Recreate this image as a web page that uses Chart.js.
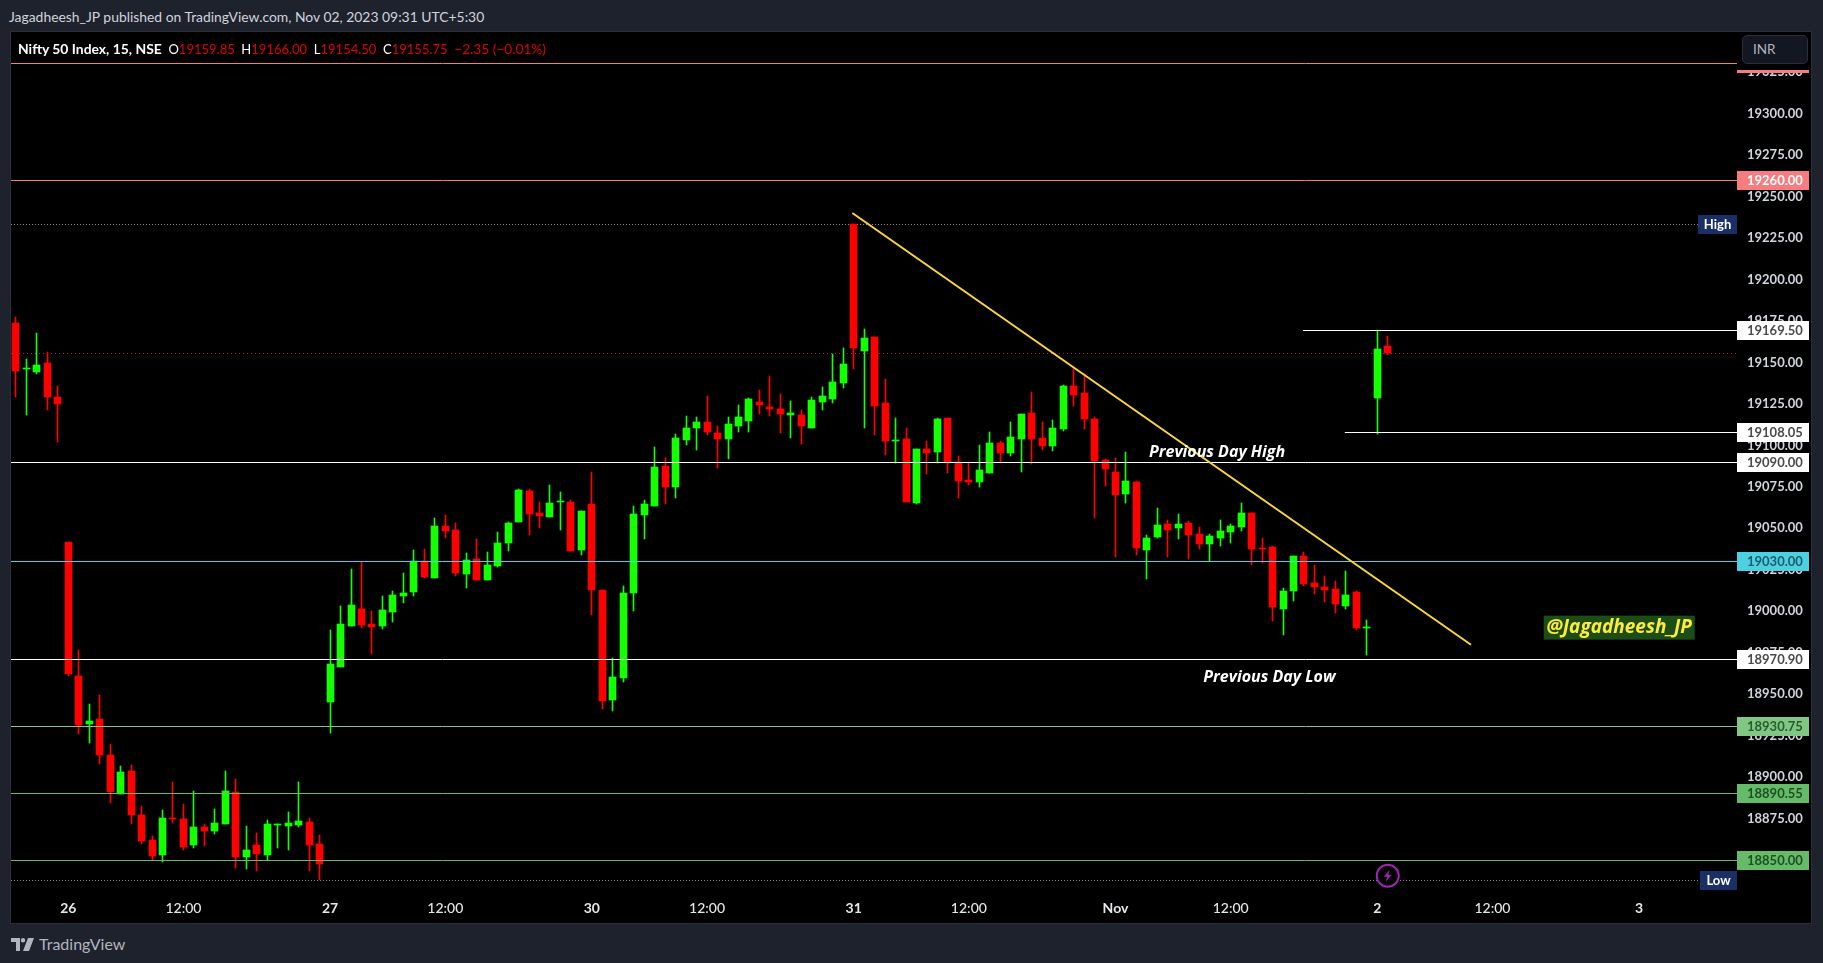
<!DOCTYPE html>
<html>
<head>
<meta charset="utf-8">
<title>Nifty 50 Index, 15, NSE</title>
<script src="https://cdn.jsdelivr.net/npm/chart.js@4/dist/chart.umd.min.js"></script>
<style>
  html,body{margin:0;padding:0;width:1823px;height:963px;overflow:hidden;background:#1e222d;font-family:Lato,"Liberation Sans",sans-serif}
  #published{position:absolute;left:9px;top:8px;font-size:13.9px;line-height:17px;color:#d1d4dc;white-space:nowrap}
  #pane{position:absolute;left:10px;top:31px;width:1800px;height:891px;border:1px solid #2a2e39;background:#000}
  #chart{position:absolute;left:0;top:0}
  #legend{position:absolute;left:7px;top:8px;font-size:13px;line-height:17px;color:#fff;white-space:pre}
  #legend b{font-weight:700;font-size:13.9px}
  #legend span{color:#e00000}
  #legend span.chg{font-size:13.7px}
  #cornerBg{position:absolute;left:1726px;top:0;width:74px;height:38px;background:#000}
  #inr{position:absolute;left:5px;top:3px;width:66px;height:29px;box-sizing:border-box;border:1px solid #2a2e39;border-radius:5px;background:#131722;color:#b2b5be;font-size:13.5px;line-height:27px;padding-left:10px}
  #brand{position:absolute;left:11px;top:934px;display:flex;align-items:center;color:#b2b5be;font-size:16px;line-height:20px}
  #brand svg{margin-right:5px}
</style>
</head>
<body>
<div id="published">Jagadheesh_JP published on TradingView.com, Nov 02, 2023 09:31 UTC+5:30</div>
<div id="pane">
  <canvas id="chart" width="1800" height="891"></canvas>
  <div id="legend"><b>Nifty 50 Index, 15, NSE</b>  O<span>19159.85</span>  H<span>19166.00</span>  L<span>19154.50</span>  C<span>19155.75</span>  <span class="chg">−2.35 (−0.01%)</span></div>
  <div id="cornerBg"><div id="inr">INR</div></div>
</div>
<div id="brand">
  <svg width="23" height="13" viewBox="0 0 23 13"><path fill="#b2b5be" d="M0 0h9v13H5V4H0zM12 0a2.2 2.2 0 1 1 0 4.4A2.2 2.2 0 0 1 12 0zM17 0h6l-5 13h-6z"/></svg>TradingView
</div>
<script>
'use strict';

/* ── 15 minute candles ── */
const opens = [19174.0,19146.0,19144.4,19149.8,19129.3,19041.9,18961.1,18932.2,18935.2,18913.5,18890.0,18903.9,18877.3,18862.2,18853.2,18875.5,18874.9,18859.2,18870.1,18867.7,18871.9,18891.2,18852.0,18859.2,18853.2,18871.3,18870.7,18871.3,18873.1,18859.8,
  18945.4,18966.6,18991.3,19001.5,18992.5,18991.3,18999.7,19009.3,19011.8,19030.5,19020.2,19051.6,19049.1,19022.6,19031.7,19019.0,19027.4,19041.3,19054.0,19072.7,19059.4,19057.0,19066.0,19066.0,19037.1,
  19064.8,19013.0,18946.6,18959.9,19011.2,19058.2,19063.6,19087.7,19075.1,19103.4,19110.6,19114.3,19107.6,19104.0,19111.8,19114.9,19126.3,19123.3,19122.1,19118.5,19118.5,19110.6,19126.3,19128.1,19137.8,
  19233.6,19157.1,19165.5,19125.7,19102.8,19104.0,19065.4,19098.0,19096.2,19116.7,19090.1,19079.3,19078.1,19083.5,19101.6,19095.6,19104.0,19119.7,19104.6,19099.8,19110.0,19136.0,19131.7,19116.1,19091.3,
  19084.1,19070.8,19078.1,19037.1,19044.9,19052.8,19050.3,19053.4,19046.7,19040.7,19044.3,19047.9,19051.0,19059.4,19038.3,19038.9,19001.5,19012.4,19033.5,19017.2,19014.8,19013.6,19003.3,19011.8,18990.1,
  19128.7,19159.85];
const highs = [19177.6,19152.2,19167.9,19156.5,19136.0,19041.9,18976.8,18944.2,18949.7,18920.1,18906.9,18907.5,18882.7,18864.6,18880.3,18897.2,18883.9,18891.8,18871.9,18880.9,18903.9,18899.0,18870.7,18866.4,18874.3,18871.9,18879.1,18897.2,18875.5,18865.2,
  18988.9,19003.3,19025.6,19029.8,19000.3,19009.3,19012.4,19023.2,19037.1,19037.7,19056.4,19058.2,19053.4,19035.3,19043.7,19035.9,19047.9,19054.0,19073.9,19073.9,19066.0,19076.3,19072.1,19067.2,19060.6,
  19084.1,19013.0,18971.9,19015.4,19063.6,19067.2,19099.2,19092.6,19107.0,19117.9,19117.3,19129.9,19111.8,19117.3,19124.5,19128.7,19133.5,19142.0,19131.1,19126.9,19121.5,19129.3,19135.4,19155.3,19158.9,
  19233.6,19170.3,19165.5,19140.2,19116.7,19110.6,19098.0,19102.8,19116.7,19116.7,19093.8,19089.5,19100.4,19108.2,19102.8,19114.3,19119.1,19132.3,19114.3,19115.5,19136.6,19146.2,19143.2,19117.3,19091.9,
  19092.6,19096.2,19078.7,19046.1,19062.4,19055.2,19058.8,19054.6,19051.0,19046.7,19055.2,19052.8,19065.4,19059.4,19044.3,19039.5,19014.2,19033.5,19035.9,19028.0,19021.4,19018.4,19024.4,19012.4,18994.9,
  19169.5,19166.0];
const lows = [19129.3,19118.5,19143.2,19121.5,19102.2,18961.1,18926.1,18920.7,18908.1,18884.5,18890.0,18871.9,18859.8,18850.2,18849.0,18872.5,18856.2,18857.4,18858.6,18865.8,18871.9,18845.4,18844.8,18843.6,18850.2,18857.4,18856.2,18870.1,18843.6,18838.1,
  18926.7,18966.6,18991.3,18990.1,18974.4,18989.5,18993.7,19005.1,19009.3,19020.2,19020.2,19044.3,19021.4,19014.2,19019.0,19019.0,19026.8,19036.5,19054.0,19046.1,19050.3,19057.0,19049.1,19036.5,19034.1,
  18997.9,18941.2,18940.0,18957.5,19000.3,19043.7,19063.6,19064.8,19068.4,19100.4,19097.4,19106.4,19086.5,19091.9,19108.2,19108.2,19119.1,19117.9,19107.6,19104.6,19101.0,19110.6,19121.5,19125.7,19134.8,
  19146.2,19110.6,19106.4,19094.4,19089.5,19066.0,19064.8,19082.9,19089.5,19083.5,19068.4,19076.3,19075.1,19083.5,19089.5,19093.8,19084.1,19088.9,19097.4,19096.8,19108.8,19123.9,19110.0,19056.4,19075.7,
  19032.9,19065.4,19034.1,19019.6,19044.3,19032.9,19043.7,19031.7,19037.7,19030.5,19039.5,19041.3,19048.5,19028.0,19029.2,18994.3,18985.8,19006.3,19015.4,19010.6,19005.7,18999.1,19001.5,18988.9,18973.8,
  19107.0,19154.5];
const closes = [19145.0,19146.5,19148.6,19129.3,19125.1,18962.3,18931.6,18934.0,18913.5,18891.2,18903.3,18877.3,18861.6,18852.6,18875.5,18874.9,18858.0,18870.1,18867.7,18872.5,18891.8,18852.0,18856.2,18853.8,18871.9,18871.9,18872.5,18873.7,18859.2,18847.8,
  18968.4,18992.5,19003.9,18991.9,18990.7,19000.9,19009.9,19011.2,19030.5,19020.8,19051.6,19048.5,19023.2,19031.1,19019.0,19028.0,19041.3,19053.4,19073.3,19058.8,19057.6,19065.4,19066.6,19036.5,19060.6,
  19013.0,18946.0,18960.5,19011.2,19058.8,19064.8,19087.1,19075.1,19104.6,19110.6,19114.3,19108.2,19104.0,19113.1,19117.3,19128.1,19124.5,19122.1,19119.1,19119.7,19111.8,19127.5,19129.9,19138.4,19149.2,
  19158.9,19164.9,19123.9,19102.8,19103.4,19066.0,19098.0,19095.6,19116.1,19089.5,19078.7,19078.1,19085.3,19101.6,19095.6,19105.2,19119.1,19104.0,19099.8,19110.6,19136.0,19130.5,19116.1,19090.7,19085.9,
  19070.2,19078.7,19038.3,19044.3,19052.2,19049.1,19052.8,19046.1,19040.7,19045.5,19048.5,19051.6,19059.4,19037.7,19037.7,19002.7,19012.4,19033.5,19016.6,19014.8,19013.0,19004.5,19010.0,18990.1,18990.7,
  19158.3,19155.75];

/* ── axes ── */
const priceTicks = [19325,19300,19275,19250,19225,19200,19175,19150,19125,19100,19075,19050,19025,19000,18975,18950,18925,18900,18875,18850];
const timeTickIdx = [5,16,30,41,55,66,80,91,105,116,130,141,155];
const timeTickLabels = ['26','12:00','27','12:00','30','12:00','31','12:00','Nov','12:00','2','12:00','3'];
const boldTimeLabels = ['26','27','30','31','Nov','2','3'];
const xRange = [-0.468, 164.35];
const yRange = [18828.9, 19349.25];

/* ── drawn levels ── */
const levelPrices = [19330.5,19260,19090,19030,18970.9,18930.75,18890.55,18850];
const levelColors = ['#f77c80','#f77c80','#ffffff','#4dd0e1','#ffffff','#81c784','#66bb6a','#66bb6a'];
const levelTextColors = ['#ffffff','#ffffff','#4a4a4a','#1d5c68','#4a4a4a','#2a5a2e','#1e4f22','#1e4f22'];
const rayPrices = [19169.5,19108.05];
const rayStarts = [122.9,126.9];
const highPrice = 19233.6, lowPrice = 18838.1, lastPrice = 19155.75;
const trendX = [79.87,138.95];
const trendY = [19240.1,18979.8];
const noteTexts = ['Previous Day High','Previous Day Low'];
const noteX = [114.7,119.7];
const noteY = [19095.8,18960.1];
const handle = {text:'@Jagadheesh_JP', x:153.1, y:18990.1};
const eventMark = {x:131, y:18840.5};

const UP = '#14ff00', DOWN = '#ff0000';
const FONT = 'Lato, "Liberation Sans", sans-serif';
const NOTE_FONT = '"Open Sans", "DejaVu Sans", sans-serif';
const candleColors = closes.map((c,i)=>c>=opens[i]?UP:DOWN);

const hLine = (y,x0,x1,color,extra) => Object.assign({
  type:'line', data:[{x:x0,y},{x:x1,y}], borderColor:color, borderWidth:1,
  pointRadius:0, tension:0, snap:true, order:2
},extra);

const datasets = [
  {type:'bar', data:highs.map((h,i)=>({x:i,y:[lows[i],h]})), backgroundColor:candleColors, barThickness:1, grouped:false, order:9},
  {type:'bar', data:opens.map((o,i)=>({x:i,y:[o,closes[i]]})), backgroundColor:candleColors, barThickness:7, grouped:false, order:8},
  hLine(highPrice,xRange[0],xRange[1],'#8a8d96',{borderDash:[1,2],order:10}),
  hLine(lowPrice,xRange[0],xRange[1],'#8a8d96',{borderDash:[1,2],order:10}),
  hLine(lastPrice,xRange[0],xRange[1],'#b71c1c',{borderDash:[1,3],order:10}),
  ...levelPrices.map((p,i)=>hLine(p,xRange[0],xRange[1],levelColors[i])),
  ...rayPrices.map((p,i)=>hLine(p,rayStarts[i],xRange[1],'#ffffff')),
  {type:'line', data:trendX.map((x,i)=>({x,y:trendY[i]})), borderColor:'#fdd835', borderWidth:2, pointRadius:0, tension:0, order:1}
];

/* snap to whole pixels, candles and levels look sharp on the original */
const snapPlugin = {
  id:'snap',
  afterDatasetsUpdate(chart){
    chart.data.datasets.forEach((ds,k)=>{
      const els = chart.getDatasetMeta(k).data;
      if(ds.type==='bar'){
        els.forEach(el=>{
          el.x = Math.floor(el.x)+0.5;
          el.y = Math.round(el.y);
          el.base = Math.round(el.base);
          if(el.y===el.base) el.base = el.y+1;
        });
      } else if(ds.snap){
        els.forEach(el=>{ el.y = Math.round(el.y)+0.5; });
      }
    });
  }
};

function priceTag(ctx,area,y,text,bg,fg){
  const h = 19, w = 72, mid = Math.round(y);
  ctx.fillStyle = bg;
  ctx.fillRect(area.right,mid-9,w,h);
  ctx.fillStyle = fg;
  ctx.font = `700 13px ${FONT}`;
  ctx.textAlign = 'left';
  ctx.textBaseline = 'middle';
  ctx.fillText(text,area.right+10,mid+0.5);
}

function sideTag(ctx,area,y,text,w){
  const mid = Math.round(y);
  ctx.fillStyle = '#1a2f66';
  ctx.fillRect(area.right-w,mid-9,w,19);
  ctx.fillStyle = '#ffffff';
  ctx.font = `700 13px ${FONT}`;
  ctx.textAlign = 'center';
  ctx.textBaseline = 'middle';
  ctx.fillText(text,area.right-w/2,mid+0.5);
}

const overlayPlugin = {
  id:'overlay',
  afterDatasetsDraw(chart){
    const {ctx,chartArea:area,scales:{x,y}} = chart;
    ctx.save();
    levelPrices.forEach((p,i)=>priceTag(ctx,area,y.getPixelForValue(p),p.toFixed(2),levelColors[i],levelTextColors[i]));
    rayPrices.forEach(p=>priceTag(ctx,area,y.getPixelForValue(p),p.toFixed(2),'#ffffff','#4a4a4a'));
    sideTag(ctx,area,y.getPixelForValue(highPrice),'High',39);
    sideTag(ctx,area,y.getPixelForValue(lowPrice),'Low',37);

    ctx.font = `italic 700 16px ${NOTE_FONT}`;
    ctx.fillStyle = '#ffffff';
    ctx.textAlign = 'center';
    ctx.textBaseline = 'middle';
    noteTexts.forEach((t,i)=>ctx.fillText(t,x.getPixelForValue(noteX[i]),y.getPixelForValue(noteY[i])));

    ctx.font = `italic 700 19px ${NOTE_FONT}`;
    const hx = x.getPixelForValue(handle.x), hy = y.getPixelForValue(handle.y);
    ctx.fillStyle = '#1b4d14';
    ctx.fillRect(hx-75.5,hy-12,151,24);
    ctx.fillStyle = '#ffeb3b';
    ctx.fillText(handle.text,hx,hy);

    const ex = x.getPixelForValue(eventMark.x), ey = y.getPixelForValue(eventMark.y);
    ctx.beginPath();
    ctx.arc(ex,ey,11,0,Math.PI*2);
    ctx.fillStyle = '#000';
    ctx.fill();
    ctx.strokeStyle = '#9c27b0';
    ctx.lineWidth = 2;
    ctx.stroke();
    ctx.beginPath();
    [[2,-6],[-4,1],[-0.5,1],[-2,6],[4,-1],[0.5,-1]].forEach((d,i)=>i?ctx.lineTo(ex+d[0],ey+d[1]):ctx.moveTo(ex+d[0],ey+d[1]));
    ctx.closePath();
    ctx.fillStyle = '#9c27b0';
    ctx.fill();
    ctx.restore();
  }
};

new Chart(document.getElementById('chart'),{
  type:'bar',
  data:{datasets},
  plugins:[snapPlugin,overlayPlugin],
  options:{
    responsive:false,
    animation:false,
    devicePixelRatio:1,
    events:[],
    layout:{padding:0},
    plugins:{legend:{display:false},tooltip:{enabled:false},title:{display:false}},
    scales:{
      x:{
        type:'linear', offset:false, min:xRange[0], max:xRange[1],
        grid:{display:false,drawTicks:false}, border:{display:false},
        afterBuildTicks:s=>{ s.ticks = timeTickIdx.map(value=>({value})); },
        afterFit:s=>{ s.height = 28; s.paddingLeft = 0; s.paddingRight = 0; },
        ticks:{
          autoSkip:false, maxRotation:0, padding:5, color:'#e6e7ea',
          callback:(v,i)=>timeTickLabels[i],
          font:c=>({family:FONT,size:14,weight:boldTimeLabels.includes(timeTickLabels[c.index])?'700':'500'})
        }
      },
      y:{
        type:'linear', position:'right', min:yRange[0], max:yRange[1],
        grid:{display:false,drawTicks:false}, border:{display:false},
        afterBuildTicks:s=>{ s.ticks = priceTicks.map(value=>({value})); },
        afterFit:s=>{ s.width = 74; s.paddingTop = 0; s.paddingBottom = 0; },
        ticks:{
          autoSkip:false, padding:10, color:'#d1d4dc',
          callback:v=>v.toFixed(2),
          font:{family:FONT,size:13,weight:'700'}
        }
      }
    }
  }
});
</script>
</body>
</html>
